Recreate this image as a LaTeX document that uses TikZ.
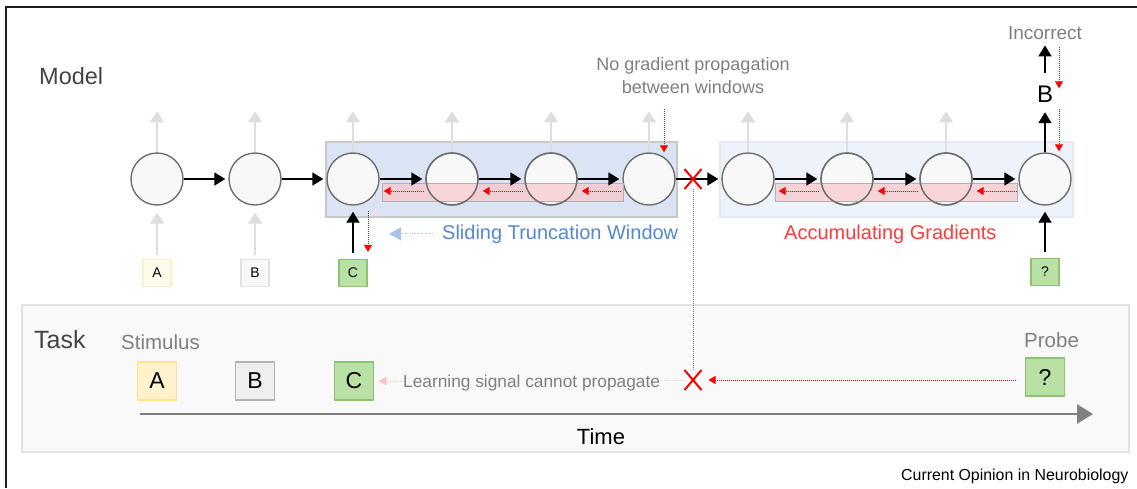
\documentclass[tikz,border=0pt]{standalone}
\usepackage{fontspec}
\setmainfont{Liberation Sans}
\usetikzlibrary{arrows.meta,shapes.misc,calc}
\definecolor{cellfill}{HTML}{F8F8F8}
\definecolor{cellline}{HTML}{6E6E6E}
\definecolor{arrowgray}{HTML}{DEDEDE}
\definecolor{txtgray}{HTML}{7F7F7F}
\definecolor{titlegray}{HTML}{444444}
\definecolor{win1fill}{HTML}{DAE4F4}
\definecolor{win1line}{HTML}{C8C8C8}
\definecolor{win2fill}{HTML}{EEF2FA}
\definecolor{win2line}{HTML}{E4E9F2}
\definecolor{gradfill}{HTML}{F8C8CA}
\definecolor{gradline}{HTML}{B0B0B0}
\definecolor{bluetxt}{HTML}{5687D2}
\definecolor{bluearrow}{HTML}{A9C4EB}
\definecolor{redtxt}{HTML}{FF3B3B}
\definecolor{pink}{HTML}{F8C4C4}
\definecolor{panelfill}{HTML}{F9F9F9}
\definecolor{panelline}{HTML}{E2E2E2}
\definecolor{timegray}{HTML}{808080}
\definecolor{greenfill}{HTML}{B9E0A5}
\definecolor{greenline}{HTML}{8DC273}
\definecolor{yelfill}{HTML}{FFF2CC}
\definecolor{yelline}{HTML}{FFE38A}
\definecolor{yelfilllt}{HTML}{FFFBEA}
\definecolor{yellinelt}{HTML}{FCF0CC}
\definecolor{grayfill}{HTML}{EFEFEF}
\definecolor{grayline}{HTML}{B4B4B4}
\definecolor{grayfilllt}{HTML}{F8F8F8}
\definecolor{graylinelt}{HTML}{E2E2E2}
\definecolor{framecol}{HTML}{1E1E1E}
\tikzset{
  cell/.style={circle, draw=cellline, fill=cellfill, line width=1.4pt, minimum size=52pt, inner sep=0pt},
  blk/.style={-{Triangle[length=11pt,width=13pt]}, line width=1.8pt, draw=black},
  gry/.style={-{Triangle[length=11pt,width=14pt]}, line width=1.6pt, draw=arrowgray},
  rdot/.style={-{Triangle[length=7pt,width=8pt]}, draw=red, line width=1pt, dash pattern=on 1pt off 1pt},
  inbox/.style={draw, line width=1.2pt, minimum width=28pt, minimum height=27pt, inner sep=0pt, font=\fontsize{14}{16}\selectfont},
  taskbox/.style={draw, line width=1.6pt, minimum width=39pt, minimum height=38pt, inner sep=0pt, font=\fontsize{23}{26}\selectfont},
  xmark/.style={cross out, draw=red, line width=2pt, minimum width=15pt, minimum height=18pt, inner sep=0pt},
  lbl/.style={inner sep=0pt, anchor=base west},
  gradbox/.style={fill=gradfill, fill opacity=0.72, draw=gradline, line width=1pt},
}
\begin{document}
\begin{tikzpicture}[x=1pt,y=-1pt]
\useasboundingbox (0,0) rectangle (1137,488);
% frame
\draw[framecol, line width=2.5pt] (1137,7) -- (6,7) -- (6,488);
% task panel
\draw[fill=panelfill, draw=panelline, line width=1.5pt] (22,305) rectangle (1129,452);
% windows
\draw[fill=win1fill, draw=win1line, line width=2pt] (326,142) rectangle (677,217);
\draw[fill=win2fill, draw=win2line, line width=1.5pt] (720,142) rectangle (1073,217);
% cells
\foreach \i/\x in {1/157,2/255,3/353,4/452,5/551,6/649,7/748,8/847,9/946,10/1045}
  \node[cell] (n\i) at (\x,179) {};
% gray output arrows
\foreach \i in {1,...,9} {
  \coordinate (o\i) at ($(n\i.north)+(0,-41)$);
  \draw[gry] (n\i.north) -- (o\i);
}
% gradient rectangles
\draw[gradbox] (382,183) rectangle (623,201);
\draw[gradbox] (775,183) rectangle (1017,201);
\foreach \i in {4,5,8,9}
  \draw[cellline, line width=1.4pt] (n\i.center) circle (26pt);
% recurrent arrows
\foreach \a/\b in {1/2,2/3,3/4,4/5,5/6,6/7,7/8,8/9,9/10}
  \draw[blk, shorten >=3pt] (n\a.east) -- (n\b.west);
% red back-prop arrows
\foreach \a/\b in {3/4,4/5,5/6,7/8,8/9,9/10}
  \draw[rdot] ($(n\b.west)+(-1,12)$) -- ($(n\a.east)+(4,12)$);
% inputs
\node[inbox, fill=yelfilllt, draw=yellinelt] (ia) at (157,273) {A};
\node[inbox, fill=grayfilllt, draw=graylinelt] (ib) at (255,273) {B};
\node[inbox, fill=greenfill, draw=greenline] (ic) at (353,273) {C};
\node[inbox, fill=greenfill, draw=greenline] (iq) at (1045,272) {?};
\draw[gry, shorten <=4pt, shorten >=7pt] (ia.north) -- (n1.south);
\draw[gry, shorten <=4pt, shorten >=7pt] (ib.north) -- (n2.south);
\draw[blk, shorten <=6pt, shorten >=6pt] (ic.north) -- (n3.south);
\draw[blk, shorten <=6pt, shorten >=6pt] (iq.north) -- (n10.south);
\draw[rdot] ($(n3.south)+(15,5)$) -- ($(ic.north)+(15,-7)$);
% top of window 1
\draw[rdot] ($(n6.north)+(15,-43)$) -- ($(n6.north)+(15,0)$);
% output side
\node[inner sep=0pt, anchor=base, font=\fontsize{24}{28}\selectfont] (outB) at (1045,102) {B};
\node[inner sep=0pt, anchor=base, font=\fontsize{19}{22}\selectfont, text=txtgray] (incor) at (1045,39) {Incorrect};
\draw[blk, shorten >=10pt] (n10.north) -- (outB.south);
\draw[blk, shorten <=12pt, shorten >=6pt] (outB.north) -- (incor.south);
\draw[rdot] ($(incor.south)+(14,8)$) -- ($(outB.north)+(14,3)$);
\draw[rdot] ($(n10.north)+(14,-43)$) -- ($(n10.north)+(14,-1)$);
% X marks
\node[xmark] (xa) at (693,179) {};
\node[xmark] (xb) at (693,380) {};
\draw[txtgray, line width=0.8pt, dash pattern=on 1pt off 1pt] (xa.south) -- (xb.north);
% texts model
\node[lbl, font=\fontsize{23.5}{28}\selectfont, text=titlegray] (model) at (39,84) {Model};
\node[inner sep=0pt, anchor=base, font=\fontsize{18}{22}\selectfont, text=txtgray] (ng1) at (693,70) {No gradient propagation};
\node[inner sep=0pt, anchor=base, font=\fontsize{18}{22}\selectfont, text=txtgray] (ng2) at (693,93) {between windows};
\node[lbl, font=\fontsize{20}{24}\selectfont, text=bluetxt] (stw) at (442,239) {Sliding Truncation Window};
\draw[bluearrow, line width=1pt, dash pattern=on 1pt off 1.5pt, -{Triangle[length=12pt,width=13pt]}, shorten <=9pt] (stw.west) -- ($(stw.west)+(-53,0)$);
\node[lbl, font=\fontsize{20}{24}\selectfont, text=redtxt] (accg) at (784,239) {Accumulating Gradients};
% task
\node[lbl, font=\fontsize{25}{28}\selectfont, text=titlegray] (task) at (34,348) {Task};
\node[lbl, font=\fontsize{20.5}{24}\selectfont, text=txtgray] (stim) at (121,349) {Stimulus};
\node[lbl, font=\fontsize{20.5}{24}\selectfont, text=txtgray] (probe) at (1024,347) {Probe};
\node[taskbox, fill=yelfill, draw=yelline] (ta) at (157,381) {A};
\node[taskbox, fill=grayfill, draw=grayline] (tb) at (255,381) {B};
\node[taskbox, fill=greenfill, draw=greenline] (tc) at (354,381) {C};
\node[taskbox, fill=greenfill, draw=greenline] (tq) at (1045,377) {?};
\node[lbl, font=\fontsize{17.3}{20}\selectfont, text=txtgray] (lsig) at (403,387) {Learning signal cannot propagate};
\draw[pink, line width=0.8pt, dash pattern=on 1pt off 1pt, -{Triangle[length=8pt,width=8pt]}] (lsig.west |- tc.east) -- ($(tc.east)+(4,0)$);
\draw[pink, line width=0.8pt, dash pattern=on 1pt off 1pt] ($(lsig.east |- xb.west)+(2,0)$) -- (xb.west);
\draw[rdot] ($(tq.west)+(-9,3)$) -- ($(xb.east)+(7,0)$);
% time axis
\coordinate (t0) at (140,414);
\coordinate (t1) at (1093,414);
\draw[timegray, line width=2.6pt, -{Triangle[length=16pt,width=19pt]}] (t0) -- (t1);
\node[inner sep=0pt, anchor=base, font=\fontsize{22}{26}\selectfont] (time) at (601,444) {Time};
\node[lbl, font=\fontsize{15.9}{19}\selectfont] (credit) at (901,480) {Current Opinion in Neurobiology};
\end{tikzpicture}
\end{document}
